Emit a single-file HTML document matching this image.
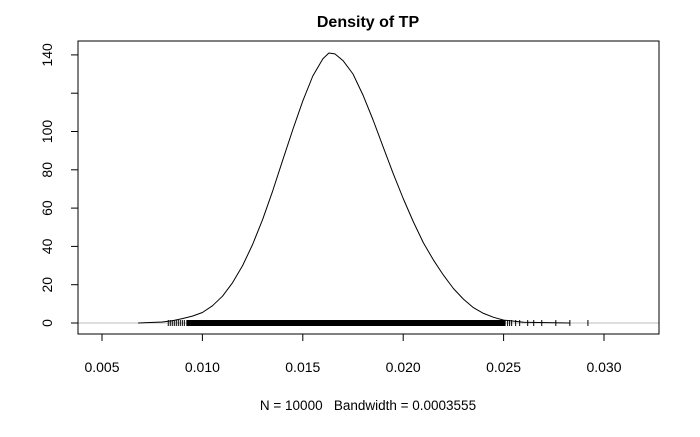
<!DOCTYPE html>
<html><head><meta charset="utf-8"><style>
body{margin:0;background:#fff}
svg text{font-family:"Liberation Sans",Arial,sans-serif}
</style></head><body>
<svg id="c" width="700" height="432">
<rect width="700" height="432" fill="#fff"/>
<text x="368" y="27" text-anchor="middle" font-size="16" font-weight="bold">Density of TP</text>
<text x="368" y="410" text-anchor="middle" font-size="13.5" style="white-space:pre" xml:space="preserve">N = 10000   Bandwidth = 0.0003555</text>
<g id="g"></g>
</svg>
<script>
const xs=[0.0068,0.008,0.0085,0.009,0.0095,0.010,0.0105,0.011,0.0115,0.012,0.0125,0.013,0.0135,0.014,0.0145,0.015,0.0155,0.016,0.0163,0.0166,0.017,0.0175,0.018,0.0185,0.019,0.0195,0.020,0.0205,0.021,0.0215,0.022,0.0225,0.023,0.0235,0.024,0.0245,0.025,0.026,0.0283];
const ys=[0,0.5,1.2,2.3,3.6,5.5,9,14,21,30,41,54,69,85,101,116,129,138,141,140.5,137,130,119,106,92,78,65,53,42,33,25,18,12.5,8,5,3,1.5,0.4,0];
const xTicks=[0.005,0.010,0.015,0.020,0.025,0.030];
const xLabels=["0.005","0.010","0.015","0.020","0.025","0.030"];
const yTicks=[0,20,40,60,80,100,120,140];
const yLabels=["0","20","40","60","80","100","","140"];
const rugDense=[0.0092,0.0251];
const rugSparse=[0.0083,0.0084,0.0085,0.0086,0.0087,0.0088,0.0089,0.0090,0.0091,0.0252,0.0253,0.0254,0.0256,0.0258,0.0262,0.0265,0.0269,0.0276,0.0283,0.0292];
const X=v=>102+(v-0.005)/0.005*100.4;
const Y=v=>323-v*1.915;
const NS="http://www.w3.org/2000/svg",g=document.getElementById('g');
function mk(t,a){const e=document.createElementNS(NS,t);for(const k in a)e.setAttribute(k,a[k]);g.appendChild(e);return e;}
let e=mk('line',{x1:78,x2:659,y1:Y(0),y2:Y(0),stroke:'#bebebe'});


e=mk('rect',{x:78,y:41,width:581,height:293,fill:'none',stroke:'#000'});


xTicks.forEach((v,i)=>{
 let t=mk('line',{x1:X(v),x2:X(v),y1:334,y2:341,stroke:'#000'});
 
 
 let l=mk('text',{x:X(v),y:372,'text-anchor':'middle','font-size':14});l.textContent=xLabels[i];
 
 
});
yTicks.forEach((v,i)=>{
 let t=mk('line',{x1:71,x2:78,y1:Y(v),y2:Y(v),stroke:'#000'});
 
 
 let l=mk('text',{x:52,y:Y(v),'text-anchor':'middle','font-size':14,transform:`rotate(-90 52 ${Y(v)})`});l.textContent=yLabels[i];
 
 
});
e=mk('rect',{x:X(rugDense[0]),y:Y(0)-3,width:X(rugDense[1])-X(rugDense[0]),height:6,fill:'#000'});


rugSparse.forEach(v=>{
 let t=mk('line',{x1:X(v),x2:X(v),y1:Y(0)-3,y2:Y(0)+3,stroke:'#000'});
 
 
});
e=mk('path',{d:xs.map((v,i)=>(i?'L':'M')+X(v).toFixed(1)+' '+Y(ys[i]).toFixed(1)).join(''),fill:'none',stroke:'#000','stroke-linejoin':'round'});


</script>
</body></html>
